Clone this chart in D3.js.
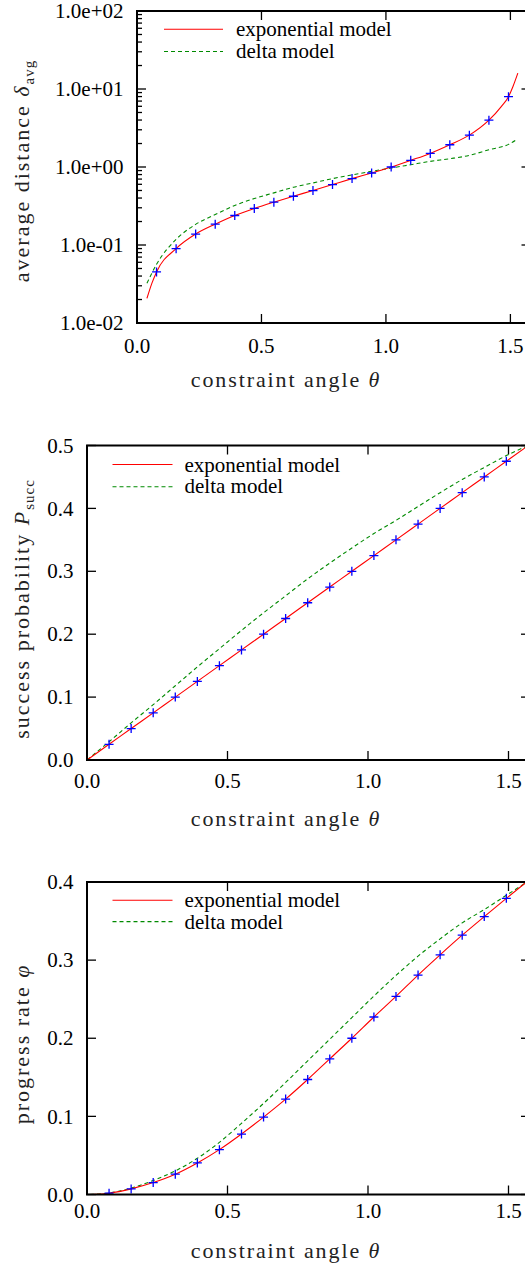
<!DOCTYPE html>
<html><head><meta charset="utf-8">
<script src="https://cdn.jsdelivr.net/npm/d3@7"></script>
<style>
body{margin:0;background:#fff;}
svg{display:block;}
</style>
</head><body>
<svg id="c" width="525" height="1268"></svg>
<script>
// ---------- shared ----------
const xTickValues = [0, 0.5, 1.0, 1.5];
const xTickLabels = ["0.0", "0.5", "1.0", "1.5"];
const markerTheta = [0.0785,0.1571,0.2356,0.3142,0.3927,0.4712,0.5498,0.6283,0.7069,0.7854,
                     0.8639,0.9425,1.0210,1.0996,1.1781,1.2566,1.3352,1.4137,1.4923];
const legendNames = ["exponential model", "delta model"];

// ---------- panel 1: average distance ----------
const distTickValues = [0.01, 0.1, 1, 10, 100];
const distTickLabels = ["1.0e-02", "1.0e-01", "1.0e+00", "1.0e+01", "1.0e+02"];
const distMarkers = [0.0452,0.0898,0.138,0.185,0.239,0.294,0.354,0.422,0.499,0.595,
                     0.710,0.838,1.0,1.217,1.494,1.928,2.56,3.98,7.98];
const distExpTheta = [0.04,0.06,0.0785,0.1571,0.2356,0.3142,0.3927,0.4712,0.5498,0.6283,0.7069,0.7854,
                      0.8639,0.9425,1.0210,1.0996,1.1781,1.2566,1.3352,1.4137,1.464,1.4923,1.51,1.53];
const distExpValues = [0.0207,0.0324,0.0452,0.0898,0.138,0.185,0.239,0.294,0.354,0.422,0.499,0.595,
                       0.710,0.838,1.0,1.217,1.494,1.928,2.56,3.98,6.0,7.98,10.7,16.0];
const distDeltaTheta = [0.04,0.0785,0.1571,0.2356,0.3142,0.3927,0.4712,0.5498,0.6283,0.7069,0.7854,
                        0.8639,0.9425,1.0210,1.0996,1.1781,1.2566,1.3352,1.4137,1.4923,1.53];
const distDeltaValues = [0.0323,0.0566,0.118,0.184,0.246,0.321,0.394,0.466,0.550,0.625,0.710,
                         0.791,0.881,0.971,1.071,1.181,1.277,1.409,1.665,1.95,2.29];

// ---------- panel 2: success probability ----------
const succTickValues = [0, 0.1, 0.2, 0.3, 0.4, 0.5];
const succTickLabels = ["0.0", "0.1", "0.2", "0.3", "0.4", "0.5"];
const succMarkers = [0.025,0.05,0.075,0.1,0.125,0.15,0.175,0.2,0.225,0.25,
                     0.275,0.3,0.325,0.35,0.375,0.4,0.425,0.45,0.475];
const succExpTheta = [0,0.0785,0.1571,0.2356,0.3142,0.3927,0.4712,0.5498,0.6283,0.7069,0.7854,
                      0.8639,0.9425,1.0210,1.0996,1.1781,1.2566,1.3352,1.4137,1.4923,1.5708];
const succExpValues = [0,0.025,0.05,0.075,0.1,0.125,0.15,0.175,0.2,0.225,0.25,
                       0.275,0.3,0.325,0.35,0.375,0.4,0.425,0.45,0.475,0.5];
const succDeltaTheta = [0,0.0785,0.1571,0.2356,0.3142,0.3927,0.4712,0.5498,0.6283,0.7069,0.7854,
                        0.8639,0.9425,1.0210,1.0996,1.1781,1.2566,1.3352,1.4137,1.4923,1.5708];
const succDeltaValues = [0,0.029,0.059,0.088,0.118,0.148,0.177,0.206,0.234,0.261,0.288,
                         0.313,0.337,0.360,0.381,0.403,0.425,0.446,0.465,0.484,0.5];

// ---------- panel 3: progress rate ----------
const rateTickValues = [0, 0.1, 0.2, 0.3, 0.4];
const rateTickLabels = ["0.0", "0.1", "0.2", "0.3", "0.4"];
const rateMarkers = [0.0017,0.0072,0.0153,0.026,0.0404,0.0574,0.0774,0.0991,0.1221,0.1472,
                     0.1736,0.2,0.2272,0.2536,0.2809,0.3068,0.3319,0.3557,0.3791];
const rateExpTheta = [0.01,0.0785,0.1571,0.2356,0.3142,0.3927,0.4712,0.5498,0.6283,0.7069,0.7854,
                      0.8639,0.9425,1.0210,1.0996,1.1781,1.2566,1.3352,1.4137,1.4923,1.5708];
const rateExpValues = [0,0.0017,0.0072,0.0153,0.026,0.0404,0.0574,0.0774,0.0991,0.1221,0.1472,
                       0.1736,0.2,0.2272,0.2536,0.2809,0.3068,0.3319,0.3557,0.3791,0.402];
const rateDeltaTheta = [0.01,0.0785,0.1571,0.2356,0.3142,0.3927,0.4712,0.5498,0.6283,0.7069,0.7854,
                        0.8639,0.9425,1.0210,1.0996,1.1781,1.2566,1.3352,1.4137,1.4923,1.5708];
const rateDeltaValues = [0,0.0019,0.0081,0.0179,0.0302,0.0464,0.0668,0.0911,0.1166,0.1434,0.1711,
                         0.1987,0.2264,0.254,0.2804,0.3051,0.3272,0.3477,0.3647,0.383,0.401];

// ---------- layout ----------
const panels = [
  {left:137, x15:510.4, right:530.5, top:11, bottom:323, log:true, yDomain:[0.01,100],
   yTicks:distTickValues, yTickLabels:distTickLabels, markers:distMarkers,
   exp:[distExpTheta,distExpValues], delta:[distDeltaTheta,distDeltaValues],
   xTickBase:30, xLabelBase:387, yLabelCenter:171,
   yLabel:{main:"average distance ", sym:"δ", sub:"avg"},
   leg:{x1:164, x2:223, tx:236, ly:[29.3,51.5], ty:[36,58.3]}},
  {left:87, x15:508.5, right:530, top:445.5, bottom:760, log:false, yDomain:[0,0.5],
   yTicks:succTickValues, yTickLabels:succTickLabels, markers:succMarkers,
   exp:[succExpTheta,succExpValues], delta:[succDeltaTheta,succDeltaValues],
   xTickBase:28, xLabelBase:826, yLabelCenter:609,
   yLabel:{main:"success probability ", sym:"P", sub:"succ"},
   leg:{x1:112.5, x2:172.5, tx:184.5, ly:[464.5,486.7], ty:[471.7,493.3]}},
  {left:87, x15:508.5, right:530, top:882, bottom:1194.5, log:false, yDomain:[0,0.4],
   yTicks:rateTickValues, yTickLabels:rateTickLabels, markers:rateMarkers,
   exp:[rateExpTheta,rateExpValues], delta:[rateDeltaTheta,rateDeltaValues],
   xTickBase:23, xLabelBase:1258, yLabelCenter:1044,
   yLabel:{main:"progress rate ", sym:"φ", sub:null},
   leg:{x1:112.5, x2:172.5, tx:184.5, ly:[900.3,921.6], ty:[907.3,929.2]}}
];

const SERIF = "'Liberation Serif'";
const svg = d3.select("#c");
const RED = "#ff0000", GREEN = "#008a00", BLUE = "#0000ff";
const MAJOR = 9, MINOR = 5;

function txt(sel) { return sel.append("text").style("font-family", SERIF).attr("fill", "#000"); }

panels.forEach((p, i) => {
  const x = d3.scaleLinear().domain([0, 1.5]).range([p.left, p.x15]);
  const y = (p.log ? d3.scaleLog() : d3.scaleLinear()).domain(p.yDomain).range([p.bottom, p.top]);
  const g = svg.append("g");

  const clipId = "clip" + i;
  svg.append("clipPath").attr("id", clipId).append("rect")
    .attr("x", p.left).attr("y", p.top).attr("width", p.right - p.left).attr("height", p.bottom - p.top);

  // ticks (inward, mirrored)
  const tk = g.append("g").attr("stroke", "#000").attr("stroke-width", 1.3);
  xTickValues.forEach(v => {
    tk.append("line").attr("x1", x(v)).attr("x2", x(v)).attr("y1", p.bottom).attr("y2", p.bottom - MAJOR);
    tk.append("line").attr("x1", x(v)).attr("x2", x(v)).attr("y1", p.top).attr("y2", p.top + MAJOR);
  });
  p.yTicks.forEach(v => {
    tk.append("line").attr("x1", p.left).attr("x2", p.left + MAJOR).attr("y1", y(v)).attr("y2", y(v));
    tk.append("line").attr("x1", p.right).attr("x2", p.right - MAJOR).attr("y1", y(v)).attr("y2", y(v));
  });
  if (p.log) {
    const minors = [];
    p.yTicks.slice(0, -1).forEach(d => { for (let m = 2; m <= 9; m++) minors.push(d * m); });
    minors.forEach(v => {
      tk.append("line").attr("x1", p.left).attr("x2", p.left + MINOR).attr("y1", y(v)).attr("y2", y(v));
      tk.append("line").attr("x1", p.right).attr("x2", p.right - MINOR).attr("y1", y(v)).attr("y2", y(v));
    });
  }

  // tick labels
  xTickValues.forEach((v, j) => {
    txt(g).attr("x", x(v)).attr("y", p.bottom + p.xTickBase)
      .attr("text-anchor", "middle").attr("font-size", 21).text(xTickLabels[j]);
  });
  p.yTicks.forEach((v, j) => {
    txt(g).attr("x", p.left - 13.5).attr("y", y(v)).attr("dy", "0.34em")
      .attr("text-anchor", "end").attr("font-size", 21).text(p.yTickLabels[j]);
  });

  // axis titles
  const xl = txt(g).attr("x", 286).attr("y", p.xLabelBase).attr("fill", "#222")
    .attr("text-anchor", "middle").attr("font-size", 22).attr("letter-spacing", "1.9px");
  xl.append("tspan").text("constraint angle ");
  xl.append("tspan").attr("font-style", "italic").text("θ");

  const yl = txt(g).attr("transform", `translate(29,${p.yLabelCenter}) rotate(-90)`).attr("fill", "#222")
    .attr("text-anchor", "middle").attr("font-size", 22).attr("letter-spacing", "2px");
  yl.append("tspan").text(p.yLabel.main);
  yl.append("tspan").attr("font-style", "italic").text(p.yLabel.sym);
  if (p.yLabel.sub) yl.append("tspan").attr("font-size", 15).attr("dy", 5).attr("letter-spacing", "1px").text(p.yLabel.sub);

  // curves
  const line = d3.line().x(d => x(d[0])).y(d => y(d[1])).curve(d3.curveMonotoneX);
  const plot = g.append("g").attr("clip-path", `url(#${clipId})`);
  const deltaPts = p.delta[0].map((t, j) => [t, p.delta[1][j]]);
  const expPts = p.exp[0].map((t, j) => [t, p.exp[1][j]]);
  plot.append("path").datum(deltaPts).attr("d", line).attr("fill", "none")
    .attr("stroke", GREEN).attr("stroke-width", 1.1).attr("stroke-dasharray", "4,3");
  plot.append("path").datum(expPts).attr("d", line).attr("fill", "none")
    .attr("stroke", RED).attr("stroke-width", 1.1);

  // markers "+"
  const s = 4.5;
  plot.selectAll(".m").data(markerTheta.map((t, j) => [t, p.markers[j]])).enter()
    .append("path")
    .attr("d", d => { const cx = x(d[0]), cy = y(d[1]);
      return `M${cx - s},${cy}H${cx + s}M${cx},${cy - s}V${cy + s}`; })
    .attr("stroke", BLUE).attr("stroke-width", 1.3).attr("fill", "none");

  // frame
  g.append("rect").attr("x", p.left).attr("y", p.top)
    .attr("width", p.right - p.left).attr("height", p.bottom - p.top)
    .attr("fill", "none").attr("stroke", "#000").attr("stroke-width", 2);

  // legend
  const L = p.leg;
  g.append("line").attr("x1", L.x1).attr("x2", L.x2).attr("y1", L.ly[0]).attr("y2", L.ly[0])
    .attr("stroke", RED).attr("stroke-width", 1.1);
  g.append("line").attr("x1", L.x1).attr("x2", L.x2).attr("y1", L.ly[1]).attr("y2", L.ly[1])
    .attr("stroke", GREEN).attr("stroke-width", 1.1).attr("stroke-dasharray", "4,3");
  legendNames.forEach((n, j) => {
    txt(g).attr("x", L.tx).attr("y", L.ty[j]).attr("font-size", 21).text(n);
  });
});
</script>
</body></html>
